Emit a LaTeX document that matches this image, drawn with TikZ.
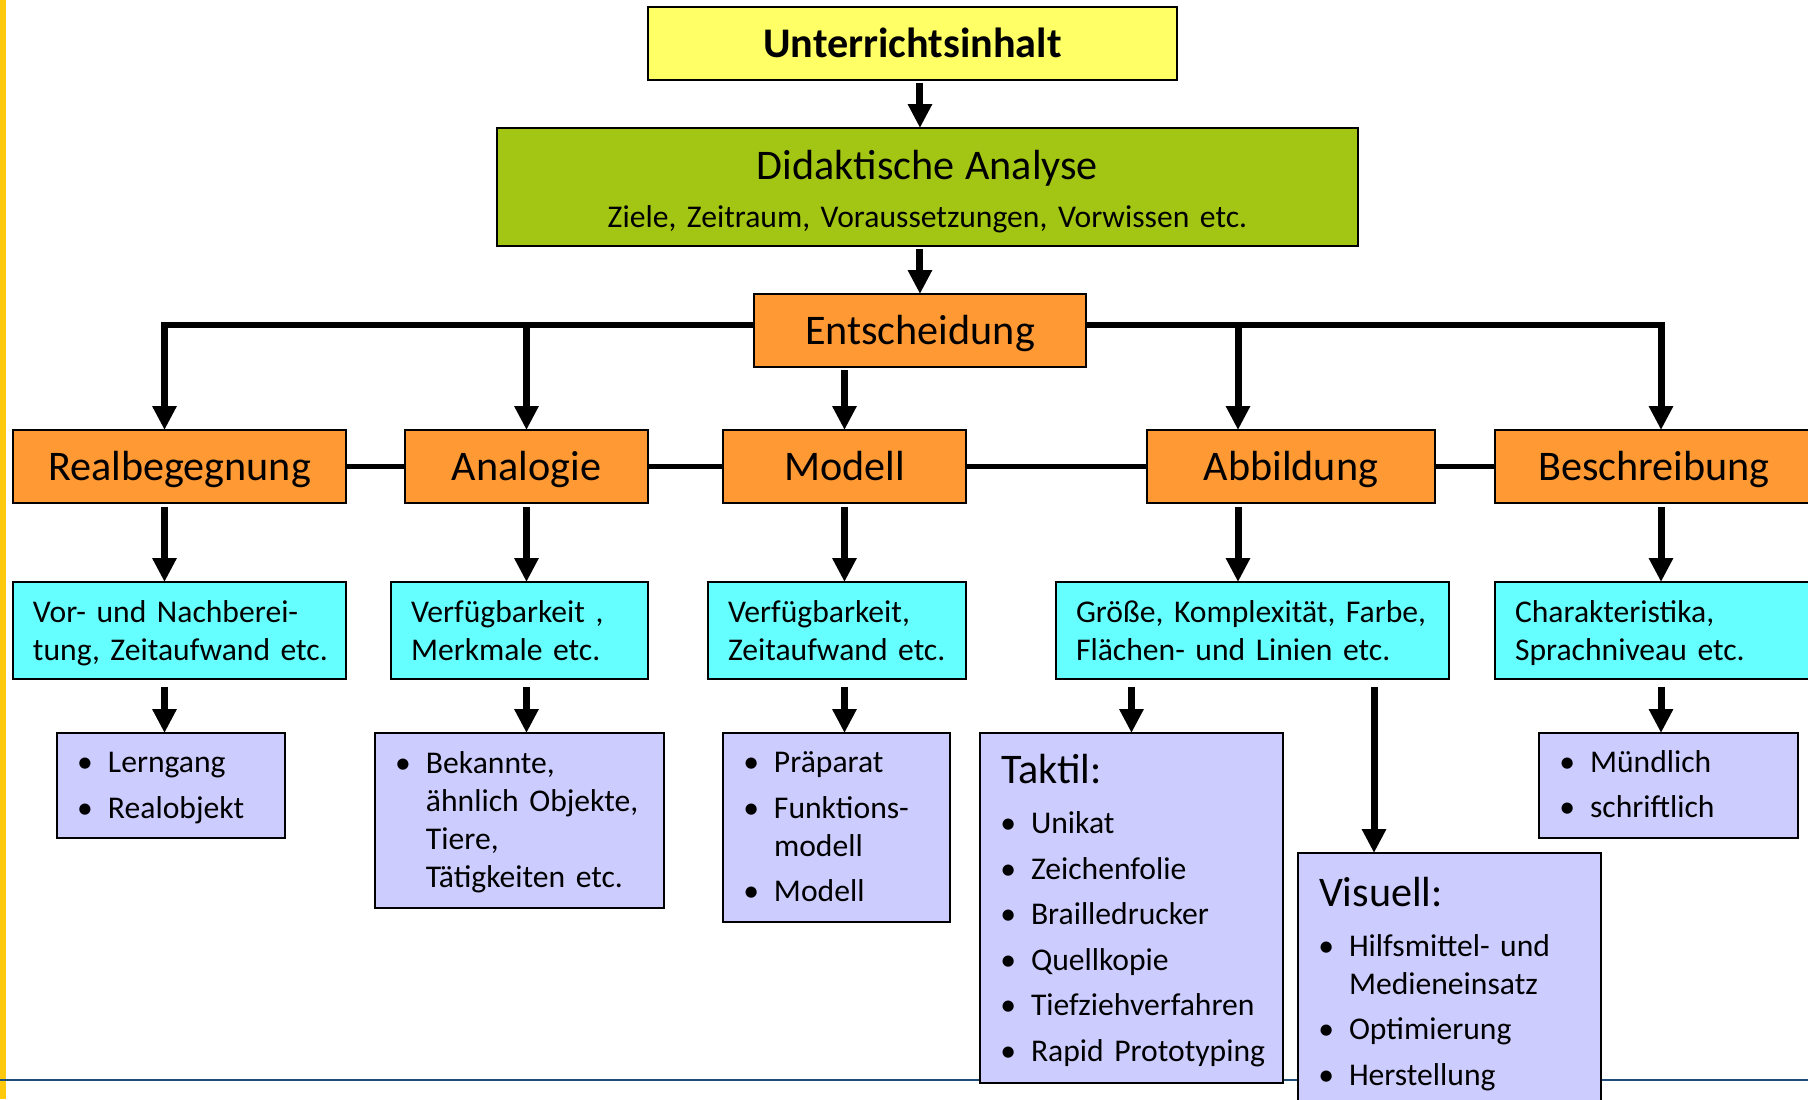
\documentclass[tikz,border=0pt]{standalone}
\usepackage{fontspec}
\setmainfont{Carlito}[WordSpace=0.8]
\usepackage{enumitem}
\usetikzlibrary{arrows.meta}
\definecolor{inhaltgelb}{HTML}{FFFF66}
\definecolor{analysegruen}{HTML}{A3C614}
\definecolor{wahlorange}{HTML}{FF9933}
\definecolor{mittelcyan}{HTML}{66FFFF}
\definecolor{listlila}{HTML}{CCCCFF}
\definecolor{randgelb}{HTML}{FFC90E}
\definecolor{linienblau}{HTML}{1F4E79}
\setlist[itemize]{label=\textbullet, leftmargin=1.02cm, labelsep=0.3cm, topsep=0pt, partopsep=0pt, parsep=0pt, itemsep=4.3pt}
\hyphenpenalty=10000
\exhyphenpenalty=10000
\begin{document}
\begin{tikzpicture}[x=0.02cm, y=-0.02cm, font=\fontsize{18}{21.6}\selectfont,
    box/.style={draw, line width=1.1pt, anchor=north west, inner sep=0pt, outer sep=0pt},
    kopf/.style={box, fill=wahlorange, minimum height=1.46cm, text height=21pt, text depth=5pt, font=\fontsize{24}{28.8}\selectfont},
    info/.style={box, fill=mittelcyan, minimum height=1.94cm, align=left,
        execute at begin node=\setlength{\leftskip}{0.4cm}\rule{0pt}{16pt},
        execute at end node=\rule[-4pt]{0pt}{4pt}},
    liste/.style={box, fill=listlila, align=left, execute at begin node=\setlength{\leftskip}{0.42cm}},
    arr/.style={line width=0.14cm, -{Triangle[width=0.46cm,length=0.48cm]}},
    verbind/.style={line width=0.1cm}]
    \useasboundingbox (0,0) rectangle (1808,1099);
    \clip (0,0) rectangle (1808,1099);
    \fill[white] (0,0) rectangle (1808,1099);
    \fill[randgelb] (0,0) rectangle (6,1099);
    \draw[linienblau, line width=0.055cm] (0,1080) -- (1808,1080);

    \node[box, fill=inhaltgelb, minimum width=10.58cm, minimum height=1.46cm, text height=21pt, text depth=5pt, font=\fontsize{24}{28.8}\selectfont\bfseries] (inhalt) at (648,7) {Unterrichtsinhalt};
    \node[box, fill=analysegruen, text width=17.22cm, minimum height=2.36cm, align=center, font=\fontsize{18}{27.3}\selectfont] (analyse) at (497,128) {{\fontsize{24}{27.3}\selectfont Didaktische Analyse}\\Ziele, Zeitraum, Voraussetzungen, Vorwissen etc.\par\kern-5.2pt};
    \node[kopf, minimum width=6.64cm] (entsch) at (754,294) {Entscheidung};

    \node[kopf, minimum width=6.66cm] (real) at (13,430) {Realbegegnung};
    \node[kopf, minimum width=4.86cm] (analog) at (405,430) {Analogie};
    \node[kopf, minimum width=4.86cm] (modell) at (723,430) {Modell};
    \node[kopf, minimum width=5.76cm] (abbild) at (1147,430) {Abbildung};
    \node[kopf, minimum width=6.36cm] (beschr) at (1495,430) {Beschreibung};

    \node[info, text width=6.66cm] (vorbereit) at (13,582) {Vor- und Nachberei-\\tung, Zeitaufwand etc.};
    \node[info, text width=5.14cm] (merkmal) at (391,582) {Verfügbarkeit ,\\Merkmale etc.};
    \node[info, text width=5.16cm] (aufwand) at (708,582) {Verfügbarkeit,\\Zeitaufwand etc.};
    \node[info, text width=7.86cm] (groesse) at (1056,582) {Größe, Komplexität, Farbe,\\Flächen- und Linien etc.};
    \node[info, text width=6.36cm] (sprache) at (1495,582) {Charakteristika,\\Sprachniveau etc.};

    \node[liste, text width=4.56cm, minimum height=2.1cm] (lerngang) at (57,733) {\begin{itemize}\item Lerngang \item Realobjekt\end{itemize}\par\kern7pt};
    \node[liste, text width=5.78cm, minimum height=3.5cm] (bekannt) at (375,733) {\begin{itemize}\item Bekannte,\newline ähnlich Objekte,\newline Tiere,\newline Tätigkeiten etc.\end{itemize}\par\kern7.6pt};
    \node[liste, text width=4.54cm, minimum height=3.78cm] (praeparat) at (723,733) {\begin{itemize}\item Präparat \item Funktions-\newline modell \item Modell\end{itemize}\par\kern10.2pt};
    \node[liste, text width=6.06cm, minimum height=7cm] (taktil) at (980,733) {{\fontsize{24}{28.8}\selectfont Taktil:\par}\vspace{6.9pt}\begin{itemize}\item Unikat \item Zeichenfolie \item Brailledrucker \item Quellkopie \item Tiefziehverfahren \item Rapid~Prototyping\end{itemize}\par\kern-3.1pt};
    \node[liste, text width=6.06cm, minimum height=5.12cm] (visuell) at (1298,853) {{\fontsize{24}{28.8}\selectfont Visuell:\par}\vspace{6.9pt}\begin{itemize}\item Hilfsmittel- und\newline Medieneinsatz \item Optimierung \item Herstellung\end{itemize}\par\kern-3.1pt};
    \node[liste, text width=5.18cm, minimum height=2.1cm] (muendlich) at (1539,733) {\begin{itemize}\item Mündlich \item schriftlich\end{itemize}\par\kern10.6pt};

    \coordinate (sp1) at (164.5,0);
    \coordinate (sp4) at (1238,0);
    \coordinate (sp5) at (1661,0);
    \coordinate (spv) at (1374,0);

    \draw[arr, shorten <=0.06cm] (inhalt.south -| entsch.north) -- (analyse.north -| entsch.north);
    \draw[arr, shorten <=0.06cm] (analyse.south -| entsch.north) -- (entsch.north);
    \draw[arr] ([yshift=0.11cm]entsch.west) -| (real.north -| sp1);
    \draw[arr] ([yshift=0.11cm]entsch.west -| analog.north) -- (analog.north);
    \draw[arr] ([yshift=0.11cm]entsch.east) -| (beschr.north -| sp5);
    \draw[arr] ([yshift=0.11cm]entsch.east -| sp4) -- (abbild.north -| sp4);
    \draw[arr, shorten <=0.06cm] (entsch.south -| modell.north) -- (modell.north);

    \draw[verbind] (real.east) -- (analog.west);
    \draw[verbind] (analog.east) -- (modell.west);
    \draw[verbind] (modell.east) -- (abbild.west);
    \draw[verbind] (abbild.east) -- (beschr.west);

    \draw[arr, shorten <=0.08cm] (real.south -| sp1) -- (vorbereit.north -| sp1);
    \draw[arr, shorten <=0.08cm] (analog.south) -- (merkmal.north -| analog.south);
    \draw[arr, shorten <=0.08cm] (modell.south) -- (aufwand.north -| modell.south);
    \draw[arr, shorten <=0.08cm] (abbild.south -| sp4) -- (groesse.north -| sp4);
    \draw[arr, shorten <=0.08cm] (beschr.south -| sp5) -- (sprache.north -| sp5);

    \draw[arr, shorten <=0.16cm] (vorbereit.south -| sp1) -- (lerngang.north -| sp1);
    \draw[arr, shorten <=0.16cm] (merkmal.south -| analog.south) -- (bekannt.north -| analog.south);
    \draw[arr, shorten <=0.16cm] (aufwand.south -| modell.south) -- (praeparat.north -| modell.south);
    \draw[arr, shorten <=0.16cm] (groesse.south -| taktil.north) -- (taktil.north);
    \draw[arr, shorten <=0.16cm] (groesse.south -| spv) -- (visuell.north -| spv);
    \draw[arr, shorten <=0.16cm] (sprache.south -| sp5) -- (muendlich.north -| sp5);
\end{tikzpicture}
\end{document}
